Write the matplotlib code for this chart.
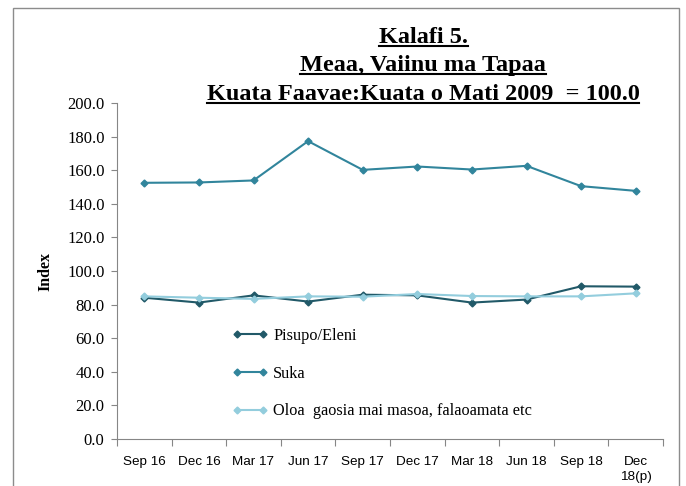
import matplotlib
matplotlib.use('Agg')
import matplotlib.pyplot as plt
from matplotlib.lines import Line2D
from matplotlib.patches import Rectangle

###############################################################################
# DATA

quarters = ['Sep 16', 'Dec 16', 'Mar 17', 'Jun 17', 'Sep 17',
            'Dec 17', 'Mar 18', 'Jun 18', 'Sep 18', 'Dec\n18(p)']

pisupo = [84.1, 81.2, 85.5, 81.8, 85.9, 85.5, 81.2, 83.0, 90.9, 90.7]
suka = [152.5, 152.7, 153.9, 177.3, 160.2, 162.2, 160.4, 162.6, 150.5, 147.7]
oloa = [84.9, 84.1, 83.4, 84.9, 84.7, 86.3, 85.1, 84.9, 84.9, 86.7]

series_names = ['Pisupo/Eleni', 'Suka', 'Oloa  gaosia mai masoa, falaoamata etc']
title_lines = ['Kalafi 5.', 'Meaa, Vaiinu ma Tapaa',
               'Kuata Faavae:Kuata o Mati 2009  = 100.0']
yticks = [0, 20, 40, 60, 80, 100, 120, 140, 160, 180, 200]

###############################################################################
# STYLE

colors = ['#215968', '#31859C', '#93CDDD']
serif = ['Liberation Serif', 'DejaVu Serif']
narrow = ['Liberation Sans Narrow', 'Liberation Sans', 'DejaVu Sans']
gray = '#868686'

fig = plt.figure(figsize=(6.86, 4.86), dpi=100)
fig.patches.append(Rectangle((13 / 686, -0.1), (679 - 13) / 686, 1.1 - 8 / 486,
                             transform=fig.transFigure, fill=False,
                             edgecolor='#8c8c8c', linewidth=1.0))

ax = fig.add_axes([117 / 686, 1 - 439 / 486, (663 - 117) / 686, (439 - 103) / 486])

x = list(range(len(quarters)))
for vals, name, col in zip([pisupo, suka, oloa], series_names, colors):
    ax.plot(x, vals, color=col, linewidth=1.5, marker='D', markersize=3.5,
            label=name)

ax.set_xlim(-0.5, len(quarters) - 0.5)
ax.set_ylim(0, 200)
ax.set_yticks(yticks)
ax.set_yticklabels(['%.1f' % v for v in yticks], fontfamily=serif, fontsize=12)

# tick marks between categories, labels centred on them
ax.set_xticks([i - 0.5 for i in range(len(quarters) + 1)])
ax.set_xticklabels([])
ax.set_xticks(x, minor=True)
ax.set_xticklabels(quarters, minor=True, fontfamily=narrow, fontsize=9.7,
                   linespacing=1.4)
ax.tick_params(axis='x', which='major', direction='out', length=5, color=gray)
ax.tick_params(axis='x', which='minor', length=0, pad=12)
ax.tick_params(axis='y', direction='out', length=4, color=gray, pad=5)

for s in ['top', 'right']:
    ax.spines[s].set_visible(False)
for s in ['left', 'bottom']:
    ax.spines[s].set_color(gray)

ax.set_ylabel('Index', fontfamily=serif, fontweight='bold', fontsize=11.5, labelpad=10)

ax.legend(loc='upper left', bbox_to_anchor=(0.21, 0.33), frameon=False,
          borderpad=0, borderaxespad=0, numpoints=2, handlelength=2.2,
          handletextpad=0.35, labelspacing=1.33,
          prop={'family': serif, 'size': 11.7})

# title, three underlined lines
title_y = [43, 71, 100]
texts = []
for t, ty in zip(title_lines, title_y):
    texts.append(fig.text(423 / 686, 1 - ty / 486, t, ha='center', va='baseline',
                          fontfamily=serif, fontweight='bold', fontsize=17.5))

fig.canvas.draw()
r = fig.canvas.get_renderer()
for t, ty in zip(texts, title_y):
    bb = t.get_window_extent(r)
    yy = 1 - (ty + 3) / 486
    fig.lines.append(Line2D([bb.x0 / fig.bbox.width, bb.x1 / fig.bbox.width], [yy, yy],
                            transform=fig.transFigure, color='black', linewidth=1.5))

fig.savefig('out.png', dpi=100)
